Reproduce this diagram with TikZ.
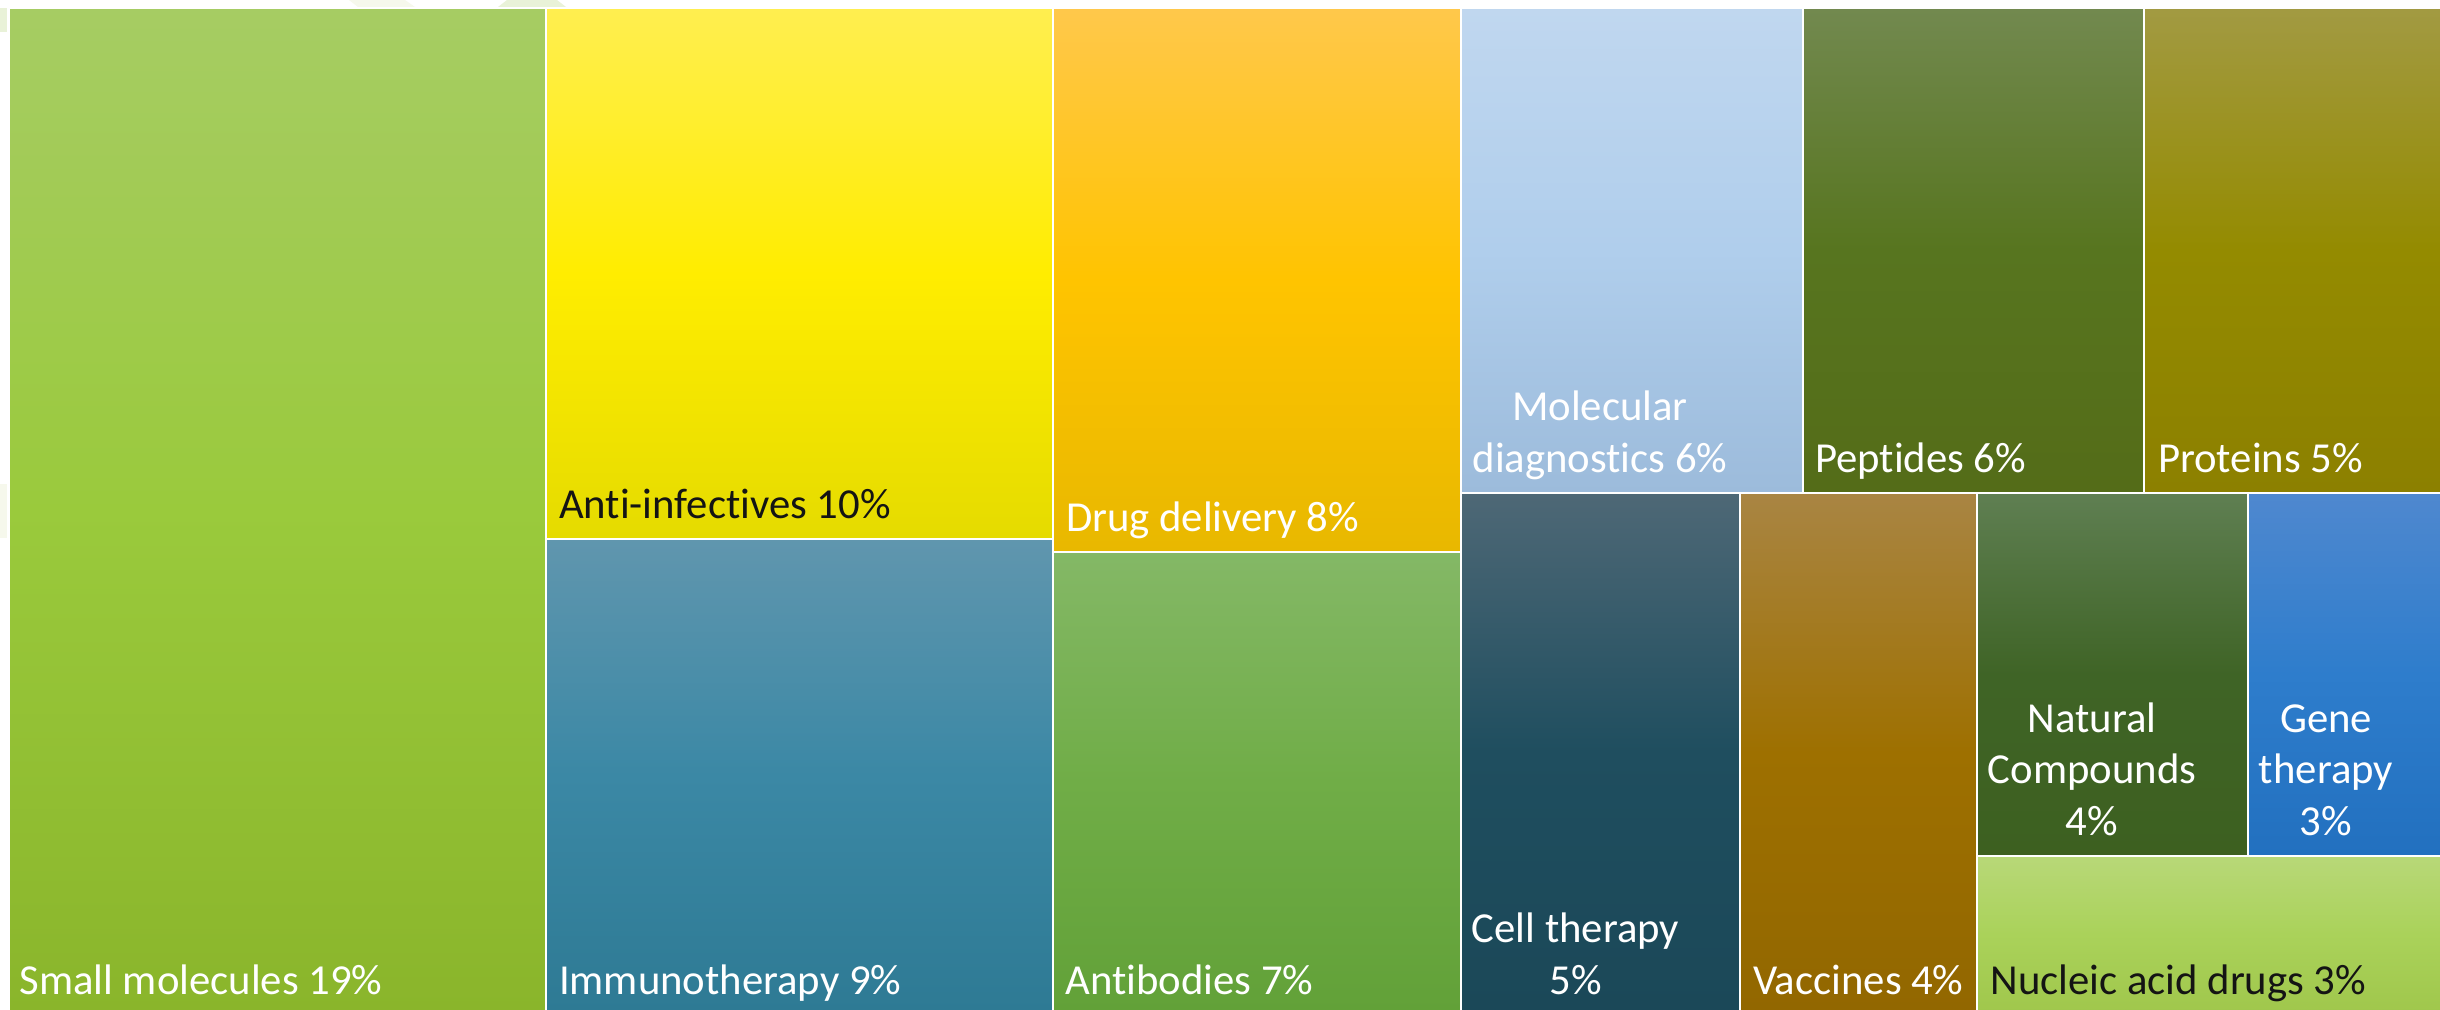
\documentclass[tikz,border=0pt]{standalone}
\usepackage{fontspec}
\setmainfont{Carlito}[Ligatures=NoCommon]
\definecolor{a1}{HTML}{A6CC63}\definecolor{a2}{HTML}{9ACA3C}\definecolor{a3}{HTML}{8AB52B}
\definecolor{b1}{HTML}{FFEE50}\definecolor{b2}{HTML}{FFED00}\definecolor{b3}{HTML}{E5DB00}
\definecolor{c1}{HTML}{6096AE}\definecolor{c2}{HTML}{3B88A5}\definecolor{c3}{HTML}{2E7A94}
\definecolor{d1}{HTML}{FFC84B}\definecolor{d2}{HTML}{FFC400}\definecolor{d3}{HTML}{E8B800}
\definecolor{e1}{HTML}{84B866}\definecolor{e2}{HTML}{70AD47}\definecolor{e3}{HTML}{62A138}
\definecolor{f1}{HTML}{C0D7EF}\definecolor{f2}{HTML}{B0CEEC}\definecolor{f3}{HTML}{9CBBDB}
\definecolor{g1}{HTML}{72894F}\definecolor{g2}{HTML}{57751F}\definecolor{g3}{HTML}{546C18}
\definecolor{h1}{HTML}{A29A42}\definecolor{h2}{HTML}{948B00}\definecolor{h3}{HTML}{8C8000}
\definecolor{i1}{HTML}{4E6876}\definecolor{i2}{HTML}{1F4E5F}\definecolor{i3}{HTML}{1B4858}
\definecolor{j1}{HTML}{A98543}\definecolor{j2}{HTML}{9E7000}\definecolor{j3}{HTML}{926700}
\definecolor{k1}{HTML}{5F7F52}\definecolor{k2}{HTML}{3F6426}\definecolor{k3}{HTML}{3D6020}
\definecolor{l1}{HTML}{4F88CF}\definecolor{l2}{HTML}{2E7DCC}\definecolor{l3}{HTML}{2270BF}
\definecolor{m1}{HTML}{B8D878}\definecolor{m2}{HTML}{AAD25A}\definecolor{m3}{HTML}{A0C74C}
\definecolor{ink}{HTML}{141414}
\definecolor{pale1}{HTML}{F6F8EC}\definecolor{pale2}{HTML}{E9F2D8}
\tikzset{
  x=0.01cm, y=-0.01cm,
  tile/.style={draw=white, line width=0.02cm},
  lab/.style={inner sep=0pt, outer sep=0pt, font=\fontsize{12.15}{14.6}\selectfont, text=white},
  labl/.style={lab, anchor=base west},
  labc/.style={lab, anchor=base, align=center},
  dark/.style={text=ink}
}
% x0 y0 x1 y1 colour-prefix
\newcommand{\tile}[5]{%
  \shade[tile, top color=#51, bottom color=#53, middle color=#52] (#1,#2) rectangle (#3,#4);}
\begin{document}
\begin{tikzpicture}
\useasboundingbox (0,0) rectangle (2440,1009);
\fill[white] (0,0) rectangle (2440,1009);
% faint remains at the picture's edge
\fill[pale1] (349,0) -- (405,0) -- (415,7) -- (358,7) -- cycle;
\fill[pale2] (507,0) -- (557,0) -- (566,7) -- (498,7) -- cycle;
\fill[pale2] (0,8) rectangle (7,32);
\fill[pale1] (0,484) rectangle (7,538);
% tiles
\tile{9}{8}{545.5}{1012}{a}
\tile{545.5}{8}{1053}{538.5}{b}
\tile{545.5}{538.5}{1053}{1012}{c}
\tile{1053}{8}{1460.5}{552}{d}
\tile{1053}{552}{1460.5}{1012}{e}
\tile{1460.5}{8}{1802.5}{492.5}{f}
\tile{1802.5}{8}{2144}{492.5}{g}
\tile{2144}{8}{2443}{492.5}{h}
\tile{1460.5}{492.5}{1740}{1012}{i}
\tile{1740}{492.5}{1977}{1012}{j}
\tile{1977}{492.5}{2247.5}{856}{k}
\tile{2247.5}{492.5}{2443}{856}{l}
\tile{1977}{856}{2443}{1012}{m}
% labels
\node[labl] (small) at (19.5,994) {Small molecules 19\%};
\node[labl,dark] (anti) at (559,518) {Anti-infectives 10\%};
\node[labl] (immuno) at (559,994) {Immunotherapy 9\%};
\node[labl] (drug) at (1066,531.5) {Drug delivery 8\%};
\node[labl] (antib) at (1065.5,994) {Antibodies 7\%};
\node[labc] (moldiag) at (1600,472) {Molecular\\diagnostics 6\%};
\node[labl] (pept) at (1815,472) {Peptides 6\%};
\node[labl] (prot) at (2158,472) {Proteins 5\%};
\node[labc] (cell) at (1575.5,994) {Cell therapy\\5\%};
\node[labl] (vacc) at (1753,994) {Vaccines 4\%};
\node[labc] (nat) at (2092,835) {Natural\\Compounds\\4\%};
\node[labc] (gene) at (2326,835) {Gene\\therapy\\3\%};
\node[labl,dark] (nucl) at (1990.5,994) {Nucleic acid drugs 3\%};
\end{tikzpicture}
\end{document}
